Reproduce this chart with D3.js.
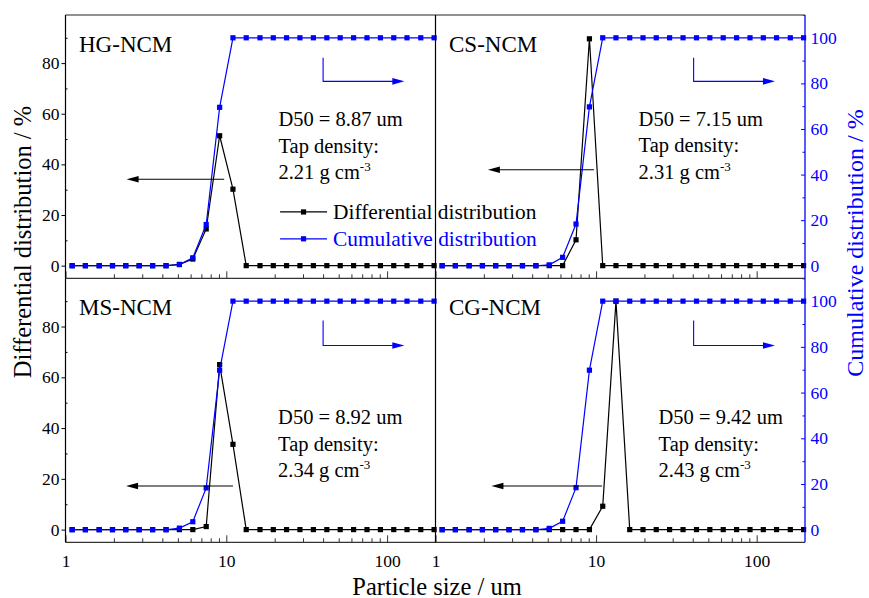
<!DOCTYPE html>
<html lang="en">
  <head>
    <meta charset="utf-8">
    <title>Particle size distribution</title>
    <script src="https://cdn.jsdelivr.net/npm/d3@7"></script>
    <style>
      body { margin: 0; background: #fff; }
      svg text { font-family: "Liberation Serif", "Times New Roman", serif; }
    </style>
  </head>
  <body>
    <script>
      // particle size bins (um), 12 per decade
      var sizes = [1.10, 1.33, 1.62, 1.96, 2.37, 2.87, 3.48, 4.22, 5.11, 6.19, 7.50, 9.09,
                   11.0, 13.3, 16.2, 19.6, 23.7, 28.7, 34.8, 42.2, 51.1, 61.9, 75.0, 90.9,
                   110, 133, 162, 196];

      var samples = ["HG-NCM", "CS-NCM", "MS-NCM", "CG-NCM"];
      var d50 = ["8.87", "7.15", "8.92", "9.42"];
      var tapDensity = ["2.21", "2.31", "2.34", "2.43"];

      // differential distribution (%)
      var hgDiff = [0, 0, 0, 0, 0, 0, 0, 0, 0.5, 2.6, 14.5, 51.3, 30.2, 0, 0, 0, 0, 0, 0, 0, 0, 0, 0, 0, 0, 0, 0, 0];
      var csDiff = [0, 0, 0, 0, 0, 0, 0, 0, 0, 0, 10.2, 89.6, 0, 0, 0, 0, 0, 0, 0, 0, 0, 0, 0, 0, 0, 0, 0, 0];
      var msDiff = [0, 0, 0, 0, 0, 0, 0, 0, 0, 0, 1.2, 65.0, 33.6, 0, 0, 0, 0, 0, 0, 0, 0, 0, 0, 0, 0, 0, 0, 0];
      var cgDiff = [0, 0, 0, 0, 0, 0, 0, 0, 0, 0, 0, 0, 9.2, 90.0, 0, 0, 0, 0, 0, 0, 0, 0, 0, 0, 0, 0, 0, 0];

      // cumulative distribution (%)
      var hgCum = [0, 0, 0, 0, 0, 0, 0, 0, 0.5, 3.5, 18.1, 69.5, 100, 100, 100, 100, 100, 100, 100, 100, 100, 100, 100, 100, 100, 100, 100, 100];
      var csCum = [0, 0, 0, 0, 0, 0, 0, 0, 0.4, 3.7, 18.3, 69.7, 100, 100, 100, 100, 100, 100, 100, 100, 100, 100, 100, 100, 100, 100, 100, 100];
      var msCum = [0, 0, 0, 0, 0, 0, 0, 0, 0.7, 3.5, 18.3, 69.8, 100, 100, 100, 100, 100, 100, 100, 100, 100, 100, 100, 100, 100, 100, 100, 100];
      var cgCum = [0, 0, 0, 0, 0, 0, 0, 0, 0.6, 3.7, 18.4, 69.8, 100, 100, 100, 100, 100, 100, 100, 100, 100, 100, 100, 100, 100, 100, 100, 100];

      var leftTicks = [0, 20, 40, 60, 80];
      var rightTicks = [0, 20, 40, 60, 80, 100];
      var xTicks = [1, 10, 100];

      var w = 869;
      var h = 598;
      var blue = "#0000ff";
      var colX = [[65.5, 435.5], [435.5, 805]];
      var rowY = [[278.3, 15], [542.3, 278.3]];

      // layout of each panel; annotation places are in data units
      var panels = [
        {name: samples[0], diff: hgDiff, cum: hgCum, col: 0, row: 0, d50: d50[0], tap: tapDensity[0],
         textX: 21.1, textY: 55, left: [9.7, 2.4, 34.1], right: [40, 128, 91.3, 80.9], legend: true},
        {name: samples[1], diff: csDiff, cum: csCum, col: 1, row: 0, d50: d50[1], tap: tapDensity[1],
         textX: 18.4, textY: 55.3, left: [9.7, 2.12, 37.9], right: [40.5, 130, 91.3, 80.9]},
        {name: samples[2], diff: msDiff, cum: msCum, col: 0, row: 1, d50: d50[2], tap: tapDensity[2],
         textX: 21, textY: 41.6, left: [11, 2.38, 17.2], right: [40, 128, 91.5, 80.6]},
        {name: samples[3], diff: cgDiff, cum: cgCum, col: 1, row: 1, d50: d50[3], tap: tapDensity[3],
         textX: 24.5, textY: 41.6, left: [10.9, 2.23, 17.2], right: [40.5, 130, 91.5, 80.6]}
      ];

      var svg = d3.select("body")
                  .append("svg")
                    .attr("width", w)
                    .attr("height", h)
                    .style("background", "#fff");

      function arrowHead(g, tipX, tipY, dir, color) {
        // dir = -1 points left, +1 points right
        var len = 12, half = 3.3;
        g.append("path")
         .attr("d", "M" + tipX + "," + tipY +
                    "L" + (tipX - dir * len) + "," + (tipY - half) +
                    "L" + (tipX - dir * len) + "," + (tipY + half) + "Z")
         .attr("fill", color);
      }

      panels.forEach(function(p) {
        var x = d3.scaleLog().domain([1, 200]).range(colX[p.col]);
        var yL = d3.scaleLinear().domain([-5, 99]).range(rowY[p.row]);
        var yR = d3.scaleLinear().domain([-5.5, 110]).range(rowY[p.row]);
        var g = svg.append("g");

        // x axis ticks (inside)
        var xg = g.append("g")
                  .attr("transform", "translate(0," + rowY[p.row][0] + ")")
                  .call(d3.axisBottom(x).tickValues(xTicks).tickSize(-7).tickPadding(11.8)
                          .tickFormat(p.row == 1 ? d3.format("d") : ""));
        xg.select(".domain").remove();
        xg.selectAll("line").attr("stroke", "#333");
        xg.selectAll("text").attr("font-size", 17.5).attr("font-family", "Liberation Serif").attr("fill", "#000");

        var xm = g.append("g")
                  .attr("transform", "translate(0," + rowY[p.row][0] + ")")
                  .call(d3.axisBottom(x).tickValues([2, 3, 4, 5, 6, 7, 8, 9, 20, 30, 40, 50, 60, 70, 80, 90])
                          .tickSize(-4).tickFormat(""));
        xm.select(".domain").remove();
        xm.selectAll("line").attr("stroke", "#333");

        if (p.col == 0) {
          var yg = g.append("g")
                    .attr("transform", "translate(" + colX[0][0] + ",0)")
                    .call(d3.axisLeft(yL).tickValues(leftTicks).tickSize(4).tickPadding(2));
          yg.select(".domain").remove();
          yg.selectAll("text").attr("font-size", 17.5).attr("font-family", "Liberation Serif").attr("fill", "#000");
          var ym = g.append("g")
                    .attr("transform", "translate(" + colX[0][0] + ",0)")
                    .call(d3.axisLeft(yL).tickValues([10, 30, 50, 70, 90]).tickSize(-2).tickFormat(""));
          ym.select(".domain").remove();
        } else {
          var rg = g.append("g")
                    .attr("transform", "translate(" + colX[1][1] + ",0)")
                    .call(d3.axisRight(yR).tickValues(rightTicks).tickSize(-4).tickPadding(5.5));
          rg.select(".domain").remove();
          rg.selectAll("line").attr("stroke", blue);
          rg.selectAll("text").attr("font-size", 17.5).attr("font-family", "Liberation Serif").attr("fill", blue);
          var rm = g.append("g")
                    .attr("transform", "translate(" + colX[1][1] + ",0)")
                    .call(d3.axisRight(yR).tickValues([10, 30, 50, 70, 90, 110]).tickSize(-2.5).tickFormat(""));
          rm.select(".domain").remove();
          rm.selectAll("line").attr("stroke", blue);
        }

        // differential (black, left axis)
        var diffLine = d3.line()
                         .x(function(d, i) { return x(sizes[i]); })
                         .y(function(d) { return yL(d); });
        g.append("path")
         .datum(p.diff)
         .attr("d", diffLine)
         .attr("fill", "none")
         .attr("stroke", "#000")
         .attr("stroke-width", 1.2);
        g.selectAll(".dm")
         .data(p.diff)
         .enter()
         .append("rect")
           .attr("class", "dm")
           .attr("x", function(d, i) { return x(sizes[i]) - 2.6; })
           .attr("y", function(d) { return yL(d) - 2.6; })
           .attr("width", 5.2)
           .attr("height", 5.2)
           .attr("fill", "#000");

        // cumulative (blue, right axis)
        var cumLine = d3.line()
                        .x(function(d, i) { return x(sizes[i]); })
                        .y(function(d) { return yR(d); });
        g.append("path")
         .datum(p.cum)
         .attr("d", cumLine)
         .attr("fill", "none")
         .attr("stroke", blue)
         .attr("stroke-width", 1.2);
        g.selectAll(".cm")
         .data(p.cum)
         .enter()
         .append("rect")
           .attr("class", "cm")
           .attr("x", function(d, i) { return x(sizes[i]) - 2.6; })
           .attr("y", function(d) { return yR(d) - 2.6; })
           .attr("width", 5.2)
           .attr("height", 5.2)
           .attr("fill", blue);

        // panel name
        g.append("text")
         .attr("x", colX[p.col][0] + 13.5)
         .attr("y", yL(84.5))
         .attr("font-size", 23)
         .text(p.name);

        // D50 and tap density
        var tx = x(p.textX), ty = yL(p.textY);
        g.append("text").attr("x", tx).attr("y", ty).attr("font-size", 20.5)
         .text("D50 = " + p.d50 + " um");
        g.append("text").attr("x", tx).attr("y", ty + 26.5).attr("font-size", 20.5)
         .text("Tap density:");
        var t3 = g.append("text").attr("x", tx).attr("y", ty + 53).attr("font-size", 20.5);
        t3.append("tspan").text(p.tap + " g cm");
        t3.append("tspan").attr("dy", -8).attr("font-size", 13).text("-3");

        // arrow to left axis
        var ay = yL(p.left[2]);
        g.append("line")
         .attr("x1", x(p.left[0])).attr("x2", x(p.left[1]) + 6)
         .attr("y1", ay).attr("y2", ay)
         .attr("stroke", "#000").attr("stroke-width", 1.1);
        arrowHead(g, x(p.left[1]), ay, -1, "#000");

        // arrow to right axis
        var bx = x(p.right[0]), bx2 = x(p.right[1]);
        var by1 = yR(p.right[2]), by2 = yR(p.right[3]);
        g.append("path")
         .attr("d", "M" + bx + "," + by1 + "L" + bx + "," + by2 + "L" + (bx2 - 6) + "," + by2)
         .attr("fill", "none")
         .attr("stroke", blue)
         .attr("stroke-width", 1.1);
        arrowHead(g, bx2, by2, 1, blue);

        if (p.legend) {
          var lg = [{label: "Differential distribution", color: "#000", y: 21.2},
                    {label: "Cumulative distribution", color: blue, y: 10.6}];
          lg.forEach(function(l) {
            var ly = yL(l.y);
            g.append("line")
             .attr("x1", x(21.6)).attr("x2", x(42.3))
             .attr("y1", ly).attr("y2", ly)
             .attr("stroke", l.color).attr("stroke-width", 1.2);
            g.append("rect")
             .attr("x", (x(21.6) + x(42.3)) / 2 - 2.6).attr("y", ly - 2.6)
             .attr("width", 5.2).attr("height", 5.2)
             .attr("fill", l.color);
            g.append("text")
             .attr("x", x(46.1)).attr("y", ly + 7)
             .attr("font-size", 21.4)
             .attr("fill", l.color)
             .text(l.label);
          });
        }
      });

      // frame lines
      svg.append("line")
         .attr("x1", colX[0][0]).attr("x2", colX[1][1])
         .attr("y1", rowY[0][1]).attr("y2", rowY[0][1])
         .attr("stroke", "#6e6e6e").attr("stroke-width", 1.3);
      [rowY[0][0], rowY[1][0]].forEach(function(yy) {
        svg.append("line")
           .attr("x1", colX[0][0]).attr("x2", colX[1][1])
           .attr("y1", yy).attr("y2", yy)
           .attr("stroke", "#333").attr("stroke-width", 1.3);
      });
      svg.append("line")
         .attr("x1", colX[0][0]).attr("x2", colX[0][0])
         .attr("y1", rowY[0][1]).attr("y2", rowY[1][0])
         .attr("stroke", "#000").attr("stroke-width", 1.2);
      svg.append("line")
         .attr("x1", colX[0][1]).attr("x2", colX[0][1])
         .attr("y1", rowY[0][1]).attr("y2", rowY[1][0])
         .attr("stroke", "#000").attr("stroke-width", 1.2);
      svg.append("line")
         .attr("x1", colX[1][1]).attr("x2", colX[1][1])
         .attr("y1", rowY[0][1]).attr("y2", rowY[1][0])
         .attr("stroke", blue).attr("stroke-width", 1.3);

      // axis titles
      svg.append("text")
         .attr("x", 437)
         .attr("y", 594.5)
         .attr("text-anchor", "middle")
         .attr("font-size", 24.5)
         .text("Particle size / um");

      svg.append("text")
         .attr("transform", "translate(31,242) rotate(-90)")
         .attr("text-anchor", "middle")
         .attr("font-size", 24.5)
         .text("Differential distribution / %");

      svg.append("text")
         .attr("transform", "translate(862.5,243) rotate(-90)")
         .attr("text-anchor", "middle")
         .attr("font-size", 24)
         .attr("fill", blue)
         .text("Cumulative distribution / %");
    </script>
  </body>
</html>
